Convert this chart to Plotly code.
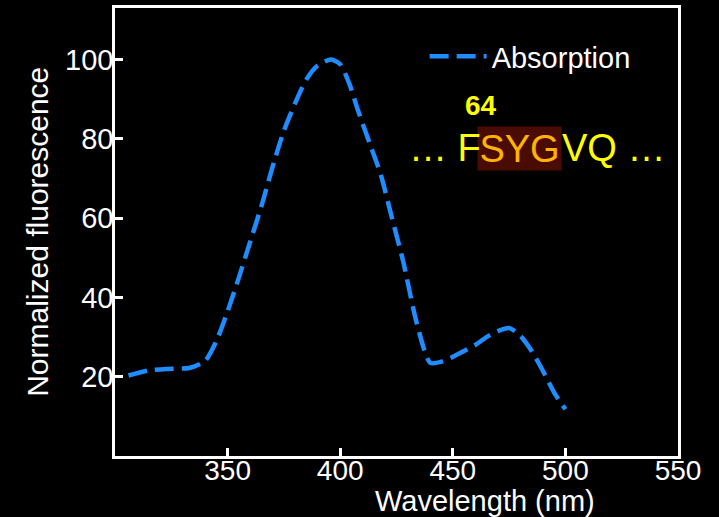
import plotly.graph_objects as go

wavelength = [306, 315, 325, 333, 340, 345, 350, 355, 360, 365, 370, 375, 380, 385, 390, 396,
              400, 404, 408, 413, 418, 423, 428, 434, 440, 445, 450, 455, 460, 465, 470, 475,
              480, 485, 490, 495, 500]
absorption = [20.3, 21.6, 22.0, 22.2, 24.0, 29.0, 36.5, 45.0, 54.0, 63.0, 73.0, 82.0, 89.0, 95.0, 98.5, 100.0,
              98.8, 94.0, 87.0, 79.0, 71.0, 60.0, 49.0, 33.5, 23.5, 23.8, 25.0, 26.5, 28.0, 30.0, 31.5, 32.3,
              30.3, 26.5, 21.5, 16.0, 11.8]
x_ticks = [350, 400, 450, 500, 550]
y_ticks = [20, 40, 60, 80, 100]

FONT = "Liberation Sans, Arial, sans-serif"
BLUE = "#1f8cff"

fig = go.Figure()
fig.add_trace(go.Scatter(
    x=wavelength, y=absorption, mode="lines", name="Absorption",
    line=dict(color=BLUE, width=4.5, dash="19px,8px", shape="spline", smoothing=0.7),
))

axis_common = dict(
    showline=True, mirror=True, linecolor="white", linewidth=2.5,
    ticks="inside", ticklen=8, tickwidth=2.5, tickcolor="white",
    showgrid=False, zeroline=False,
)

fig.update_layout(
    width=719, height=517,
    margin=dict(l=115, r=41, t=5, b=61),
    paper_bgcolor="black", plot_bgcolor="black",
    xaxis=dict(range=[300, 550], tickvals=x_ticks, ticklabelstandoff=-12,
               tickfont=dict(family=FONT, size=28, color="white"), **axis_common),
    yaxis=dict(range=[0, 113], tickvals=y_ticks, ticklabelstandoff=-7,
               tickfont=dict(family=FONT, size=29, color="white"), **axis_common),
    showlegend=True,
    legend=dict(x=0.55, y=0.892, xanchor="left", yanchor="middle",
                bgcolor="rgba(0,0,0,0)", font=dict(family=FONT, size=29, color="white"),
                itemwidth=57),
    annotations=[
        dict(text="Wavelength (nm)", xref="paper", yref="paper", x=0.658, y=-0.101,
             xanchor="center", yanchor="middle", showarrow=False,
             font=dict(family=FONT, size=29, color="white")),
        dict(text="Normalized fluorescence", xref="paper", yref="paper", x=-0.138, y=0.501,
             xanchor="center", yanchor="middle", textangle=-90, showarrow=False,
             font=dict(family=FONT, size=30, color="white")),
        dict(text="<b>64</b>", xref="paper", yref="paper", x=0.65, y=0.782,
             xanchor="center", yanchor="middle", showarrow=False,
             font=dict(family=FONT, size=28, color="#ffff00")),
        dict(text="SYG", xref="paper", yref="paper", x=0.719, y=0.687,
             xanchor="center", yanchor="middle", showarrow=False, width=83, height=43,
             bgcolor="#4a0c00", borderpad=0,
             font=dict(family=FONT, size=38, color="#ffb300")),
        dict(text="… F", xref="paper", yref="paper", x=0.654, y=0.687,
             xanchor="right", yanchor="middle", showarrow=False,
             font=dict(family=FONT, size=38, color="#ffff00")),
        dict(text="VQ …", xref="paper", yref="paper", x=0.79, y=0.687,
             xanchor="left", yanchor="middle", showarrow=False,
             font=dict(family=FONT, size=38, color="#ffff00")),
    ],
)

fig.write_html("out.html")
